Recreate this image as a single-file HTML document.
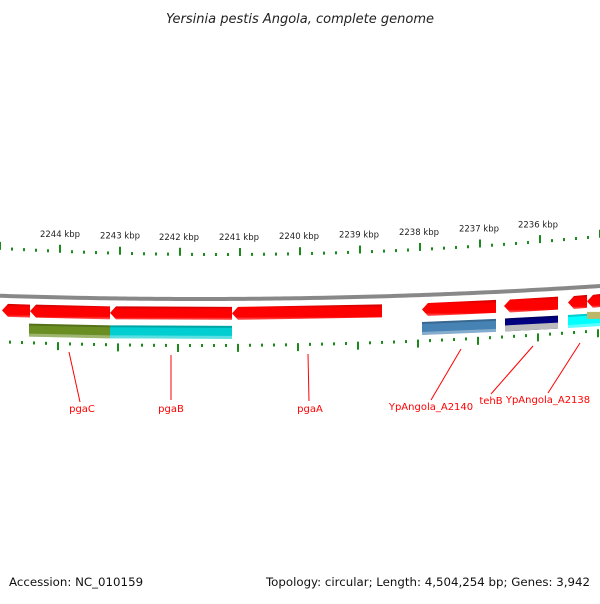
<!DOCTYPE html>
<html><head><meta charset="utf-8"><style>
body{margin:0;background:#fff;width:600px;height:600px;overflow:hidden;font-family:"DejaVu Sans","Liberation Sans",sans-serif}
</style></head><body>
<svg id="c" width="600" height="600" xmlns="http://www.w3.org/2000/svg">
<defs>
<linearGradient id="gr" x1="0" y1="0" x2="0" y2="1"><stop offset="0" stop-color="#c00"/><stop offset="0.25" stop-color="#f00"/><stop offset="0.8" stop-color="#f00"/><stop offset="1" stop-color="#f66"/></linearGradient>
</defs>
<text x="300" y="23" font-size="13" font-style="italic" text-anchor="middle" fill="#222">Yersinia pestis Angola, complete genome</text>
<g id="ticks"></g><g id="feat"></g><g id="labs"></g>
<text x="9" y="586" font-size="11.8" fill="#111">Accession: NC_010159</text>
<text x="590" y="586" font-size="11.8" fill="#111" text-anchor="end">Topology: circular; Length: 4,504,254 bp; Genes: 3,942</text>
</svg>
<script>
const kbpLabels=[2244,2243,2242,2241,2240,2239,2238,2237,2236];
const majorX=[60,120,179,239,299,359,419,479,538];
const row1Genes=[[2,30],[30,110],[110,232],[232,382],[422,496],[504,558],[568,587],[587,600]];
const row2Genes=[[29,110,'#6b8e23'],[110,232,'#00ced1'],[422,496,'#4682b4'],[505,558,'#000080'],[568,600,'#00ffff']];
const geneLabels=[['pgaC',82,412,69,352,80,402],['pgaB',171,412,171,355,171,400],['pgaA',310,412,308,354,309,401],['YpAngola_A2140',431,410,461,349,431,400],['tehB',491,404,533,346,491,394],['YpAngola_A2138',548,403,580,343,548,393]];
const NS='http://www.w3.org/2000/svg';
function bb(x){return 299-8.1e-5*(x-200)*(x-200);}
function tt(x){return 256-1.26e-4*(x-220)*(x-220);}
function bt(x){return 347-9.3e-5*(x-200)*(x-200);}
function mk(tag,at,parent){const e=document.createElementNS(NS,tag);for(const k in at)e.setAttribute(k,at[k]);document.getElementById(parent).appendChild(e);return e;}
let d='M0 '+bb(0);for(let x=5;x<=600;x+=5)d+=' L'+x+' '+bb(x);
let bbp=mk('path',{d:d,stroke:'#888','stroke-width':4,fill:'none'},'ticks');


for(let x=0;x<=600;x+=12){
  const major=Math.abs(((x)%60))<1;
  const h=major?8:3;
  let t=mk('line',{x1:x,x2:x,y1:tt(x)-h,y2:tt(x),stroke:'#1a8a1a','stroke-width':2},'ticks');
  
  
  let b=mk('line',{x1:x-2,x2:x-2,y1:bt(x-2)-3,y2:bt(x-2)+(major?5:0),stroke:'#1a8a1a','stroke-width':2},'ticks');
  
  
}
kbpLabels.forEach((k,i)=>{const x=majorX[i];
  let t=mk('text',{x:x,y:tt(x)-16,'font-size':8.5,'text-anchor':'middle',fill:'#222'},'ticks');t.textContent=k+' kbp';
  
  });
row1Genes.forEach(g=>{const[a,b]=g;const y1=bb(a)+8,y2=bb(b)+8,h=13;
  const p=`${a},${y1+h/2} ${a+6},${y1} ${b},${y2} ${b},${y2+h} ${a+6},${y1+h}`;
  let e=mk('polygon',{points:p,fill:'url(#gr)'},'feat');
  
  });
row2Genes.forEach(g=>{const[a,b,c]=g;const y1=bb(a)+27,y2=bb(b)+27,h=13;
  let e=mk('polygon',{points:`${a},${y1} ${b},${y2} ${b},${y2+h} ${a},${y1+h}`,fill:c},'feat');
  
  
  mk('polygon',{points:`${a},${y1+h-3} ${b},${y2+h-3} ${b},${y2+h} ${a},${y1+h}`,fill:'#fff',opacity:0.35},'feat');
  mk('polygon',{points:`${a},${y1} ${b},${y2} ${b},${y2+2} ${a},${y1+2}`,fill:'#000',opacity:0.2},'feat');});
let gz=mk('polygon',{points:`505,${bb(505)+34} 558,${bb(558)+34} 558,${bb(558)+40} 505,${bb(505)+40}`,fill:'#bbb'},'feat');

let kz=mk('rect',{x:587,y:bb(587)+25,width:13,height:7,fill:'#bdb76b'},'feat');

geneLabels.forEach(l=>{const[n,x,y,lx1,ly1,lx2,ly2]=l;
  mk('line',{x1:lx1,y1:ly1,x2:lx2,y2:ly2,stroke:'#f00','stroke-width':1},'labs');
  let t=mk('text',{x:x,y:y,'font-size':10,'text-anchor':'middle',fill:'#f00'},'labs');t.textContent=n;
  
  });
</script>
</body></html>
